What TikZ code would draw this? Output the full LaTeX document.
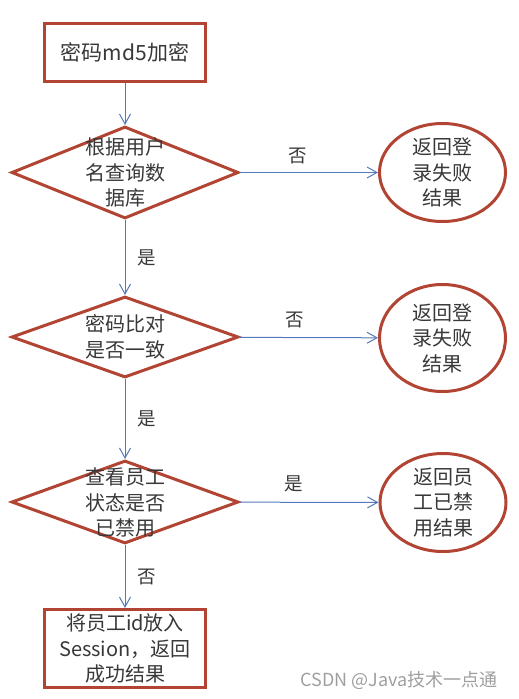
\documentclass[tikz,border=0pt]{standalone}
\usepackage{fontspec}
\newfontfamily\cjk{Noto Sans CJK SC}
\usetikzlibrary{shapes.geometric}
\usetikzlibrary{arrows.meta}
\definecolor{brd}{RGB}{178,68,52}
\definecolor{lnk}{RGB}{84,120,186}
\definecolor{txt}{RGB}{56,56,56}

\begin{document}
\begin{tikzpicture}
[x=1pt,y=-1pt,%
  every node/.style={text=txt,font=\cjk\fontsize{20}{25.5}\selectfont,align=center,inner sep=0pt},%
  box/.style={rectangle,draw=brd,line width=3pt,minimum width=161pt},%
  decision/.style={diamond,draw=brd,line width=3pt,minimum width=227pt},%
  result/.style={ellipse,draw=brd,line width=3pt,minimum width=126pt},%
  link/.style={-{Straight Barb[length=10pt,width=11pt]},lnk,line width=1pt},%
  lbl/.style={font=\cjk\fontsize{18.5}{20}\selectfont}]
\useasboundingbox (0,0) rectangle (519,699);
% left column
\node[box,minimum height=58pt,font=\cjk\fontsize{21}{25}\selectfont] (enc) at (125,52.5) {密码md5加密};
\node[decision,minimum height=92pt] (q1) at (125,172.5) {};
\node (q1t) at (q1) {根据用户\\名查询数\\据库};
\node[decision,minimum height=81pt] (q2) at (125,337) {};
\node (q2t) at (q2) {密码比对\\是否一致};
\node[decision,minimum height=83pt] (q3) at (125,502) {};
\node (q3t) at (125,502.5) {查看员工\\状态是否\\已禁用};
\node[box,minimum height=78pt] (ok) at (125,648.5) {将员工id放入\\Session，返回\\成功结果};
% right column
\node[result,minimum height=98pt] (r1) at (442.5,172.5) {};
\node (r1t) at (r1) {返回登\\录失败\\结果};
\node[result,minimum height=107pt] (r2) at (442.5,338) {};
\node (r2t) at (r2) {返回登\\录失败\\结果};
\node[result,minimum height=98pt] (r3) at (443,502.5) {};
\node (r3t) at (r3) {返回员\\工已禁\\用结果};
% connectors
\draw[link] (enc) -- (q1);
\draw[link] (q1) -- node[lbl,midway,xshift=22pt] {是} (q2);
\draw[link] (q2) -- node[lbl,midway,xshift=22pt] {是} (q3);
\draw[link] (q3) -- node[lbl,midway,xshift=22pt] {否} (ok);
\draw[link] (q1) -- node[lbl,pos=.42,yshift=17pt] {否} (r1);
\draw[link] (q2) -- node[lbl,pos=.40,yshift=18pt] {否} (r2);
\draw[link] (q3) -- node[lbl,pos=.39,yshift=18pt] {是} (r3);
\node[font=\cjk\fontsize{18}{20}\selectfont,text=gray!75] (wm) at (399,680) {CSDN @Java技术一点通};
\end{tikzpicture}
\end{document}
